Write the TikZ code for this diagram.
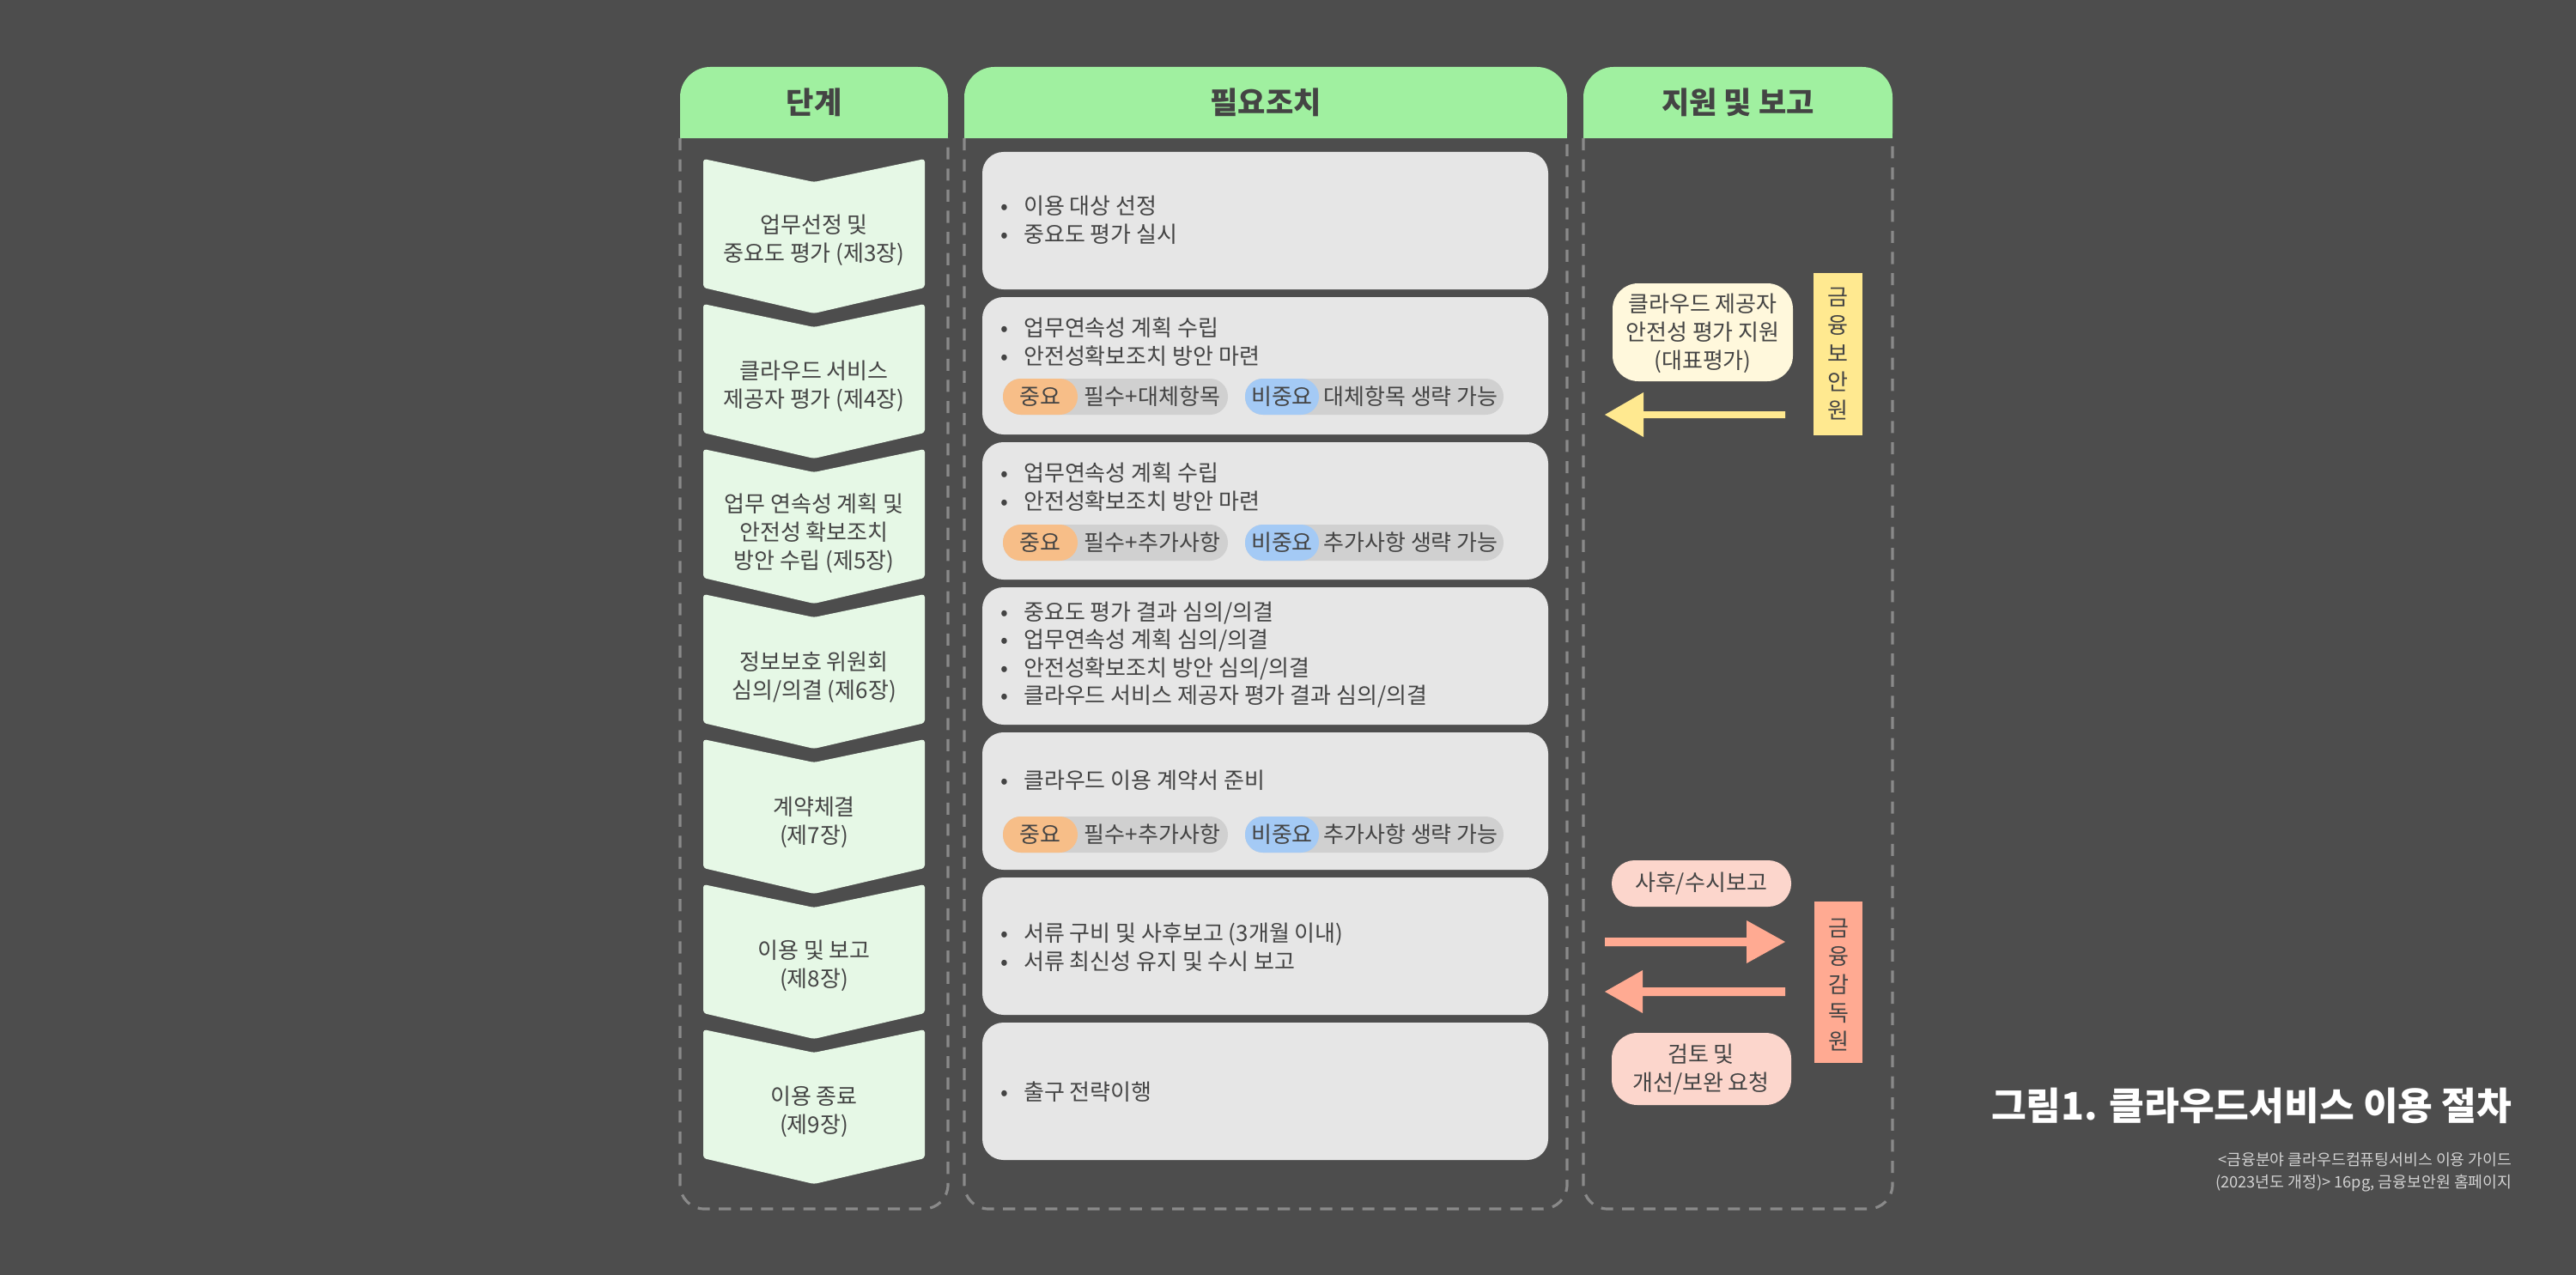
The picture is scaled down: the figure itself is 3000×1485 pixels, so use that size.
\documentclass[tikz,border=0pt]{standalone}
\usepackage{fontspec}
\setmainfont{Noto Sans CJK KR}
\definecolor{bg}{HTML}{4D4D4D}
\definecolor{hdr}{HTML}{A0F0A0}
\definecolor{chev}{HTML}{E6F8E6}
\definecolor{gbox}{HTML}{E6E6E6}
\definecolor{pillg}{HTML}{D0D0D0}
\definecolor{pillo}{HTML}{F7BE88}
\definecolor{pillb}{HTML}{A4CAF5}
\definecolor{ypale}{HTML}{FFF8DC}
\definecolor{ybox}{HTML}{FFE990}
\definecolor{sal}{HTML}{FFAA92}
\definecolor{salpale}{HTML}{FCD6CC}
\definecolor{txt}{HTML}{444444}
\definecolor{dashc}{HTML}{8A8A8A}
\tikzset{
  body/.style={font=\fontsize{7.4}{9.4}\selectfont, text=txt, inner sep=0pt},
  line/.style={body, anchor=west},
  ctext/.style={body, align=center},
  head/.style={font=\bfseries\fontsize{10}{12}\selectfont, text=txt, inner sep=0pt},
  col/.style={draw=dashc, line width=0.9pt, dash pattern=on 4pt off 3pt, rounded corners=8pt},
}
\newcommand{\chevron}[1]{\fill[chev, rounded corners=1pt] (819,#1) -- (948,#1+27) -- (1077,#1) -- (1077,#1+150) -- (948,#1+180) -- (819,#1+150) -- cycle;}
\newcommand{\gbx}[1]{\fill[gbox, rounded corners=7pt] (1144,#1) rectangle (1803,#1+160);}
% \pills{y}{name}{text1}{text2}
\newcommand{\pills}[4]{%
  \fill[pillg, rounded corners=5.9pt] (1168,#1-21) rectangle (1430,#1+21);
  \fill[pillo, rounded corners=5.9pt] (1168,#1-21) rectangle (1255,#1+21);
  \node[body] (#2a) at (1211,#1) {중요};
  \node[body] (#2b) at (1342,#1) {#3};
  \fill[pillg, rounded corners=5.9pt] (1450,#1-21) rectangle (1751,#1+21);
  \fill[pillb, rounded corners=5.9pt] (1450,#1-21) rectangle (1536,#1+21);
  \node[body] (#2c) at (1493,#1) {비중요};
  \node[body] (#2d) at (1643,#1) {#4};}
\begin{document}
\begin{tikzpicture}[x=0.01cm,y=-0.01cm]
\fill[bg] (0,0) rectangle (3000,1485);
\useasboundingbox (0,0) rectangle (3000,1485);
% column headers
\fill[hdr, rounded corners=10pt] (792,78) rectangle (1104,190);
\fill[hdr] (792,130) rectangle (1104,161);
\fill[hdr, rounded corners=10pt] (1123,78) rectangle (1825,190);
\fill[hdr] (1123,130) rectangle (1825,161);
\fill[hdr, rounded corners=10pt] (1844,78) rectangle (2204,190);
\fill[hdr] (1844,130) rectangle (2204,161);
\fill[bg] (780,161) rectangle (2220,190);
\node[head] (h1) at (948,119) {단계};
\node[head] (h2) at (1474,119) {필요조치};
\node[head] (h3) at (2024,119) {지원 및 보고};
% dashed columns
\draw[col] (792,161) -- (792,1408) -- (1104,1408) -- (1104,161);
\draw[col] (1123,161) -- (1123,1408) -- (1825,1408) -- (1825,161);
\draw[col] (1844,161) -- (1844,1408) -- (2204,1408) -- (2204,161);
% chevrons
\chevron{185}\chevron{354}\chevron{523}\chevron{692}\chevron{861}\chevron{1030}\chevron{1199}
\node[ctext] (s1) at (948,280) {업무선정 및\\중요도 평가 (제3장)};
\node[ctext] (s2) at (948,450) {클라우드 서비스\\제공자 평가 (제4장)};
\node[ctext] (s3) at (948,621) {업무 연속성 계획 및\\안전성 확보조치\\방안 수립 (제5장)};
\node[ctext] (s4) at (948,789) {정보보호 위원회\\심의/의결 (제6장)};
\node[ctext] (s5) at (948,958) {계약체결\\(제7장)};
\node[ctext] (s6) at (948,1125) {이용 및 보고\\(제8장)};
\node[ctext] (s7) at (948,1295) {이용 종료\\(제9장)};
% action boxes
\gbx{177}\gbx{346}\gbx{515}\gbx{684}\gbx{853}\gbx{1022}\gbx{1191}
\node[line] (a11) at (1165,240) {•\hspace{5pt}이용 대상 선정};
\node[line] (a12) at (1165,273) {•\hspace{5pt}중요도 평가 실시};
\node[line] (a21) at (1165,382) {•\hspace{5pt}업무연속성 계획 수립};
\node[line] (a22) at (1165,415) {•\hspace{5pt}안전성확보조치 방안 마련};
\pills{462}{p2}{필수+대체항목}{대체항목 생략 가능}
\node[line] (a31) at (1165,551) {•\hspace{5pt}업무연속성 계획 수립};
\node[line] (a32) at (1165,584) {•\hspace{5pt}안전성확보조치 방안 마련};
\pills{632}{p3}{필수+추가사항}{추가사항 생략 가능}
\node[line] (a41) at (1165,714) {•\hspace{5pt}중요도 평가 결과 심의/의결};
\node[line] (a42) at (1165,746) {•\hspace{5pt}업무연속성 계획 심의/의결};
\node[line] (a43) at (1165,779) {•\hspace{5pt}안전성확보조치 방안 심의/의결};
\node[line] (a44) at (1165,811) {•\hspace{5pt}클라우드 서비스 제공자 평가 결과 심의/의결};
\node[line] (a51) at (1165,909) {•\hspace{5pt}클라우드 이용 계약서 준비};
\pills{972}{p5}{필수+추가사항}{추가사항 생략 가능}
\node[line] (a61) at (1165,1088) {•\hspace{5pt}서류 구비 및 사후보고 (3개월 이내)};
\node[line] (a62) at (1165,1120) {•\hspace{5pt}서류 최신성 유지 및 수시 보고};
\node[line] (a71) at (1165,1272) {•\hspace{5pt}출구 전략이행};
% support column: 금융보안원
\fill[ypale, rounded corners=8.5pt] (1878,330) rectangle (2088,444);
\node[ctext] (k1) at (1983,388) {클라우드 제공자\\안전성 평가 지원\\(대표평가)};
\fill[ybox] (2112,318) rectangle (2169,507);
\node[ctext, text width=20pt] (fsi) at (2140,412) {금\\융\\보\\안\\원};
\fill[ybox] (2079,479) -- (1914,479) -- (1914,457) -- (1869,483) -- (1914,509) -- (1914,487) -- (2079,487) -- cycle;
% 금융감독원
\fill[salpale, rounded corners=7.6pt] (1877,1002) rectangle (2086,1056);
\node[body] (r1) at (1981,1029) {사후/수시보고};
\fill[salpale, rounded corners=8.5pt] (1877,1203) rectangle (2086,1287);
\node[ctext] (r2) at (1981,1246) {검토 및\\개선/보완 요청};
\fill[sal] (2113,1050) rectangle (2169,1238);
\node[ctext, text width=20pt] (fss) at (2141,1147) {금\\융\\감\\독\\원};
\fill[sal] (1869,1092) -- (2034,1092) -- (2034,1072) -- (2079,1097) -- (2034,1122) -- (2034,1102) -- (1869,1102) -- cycle;
\fill[sal] (2079,1150) -- (1913,1150) -- (1913,1130) -- (1869,1155) -- (1913,1180) -- (1913,1160) -- (2079,1160) -- cycle;
% title
\node[anchor=east, inner sep=0pt, text=white, font=\bfseries\fontsize{12.6}{15}\selectfont] (title) at (2926,1288) {그림1. 클라우드서비스 이용 절차};
\node[anchor=east, inner sep=0pt, text=white!75!bg, align=right, font=\fontsize{5.2}{7.4}\selectfont] (src) at (2926,1365) {<금융분야 클라우드컴퓨팅서비스 이용 가이드\\(2023년도 개정)> 16pg, 금융보안원 홈페이지};
\end{tikzpicture}
\end{document}
